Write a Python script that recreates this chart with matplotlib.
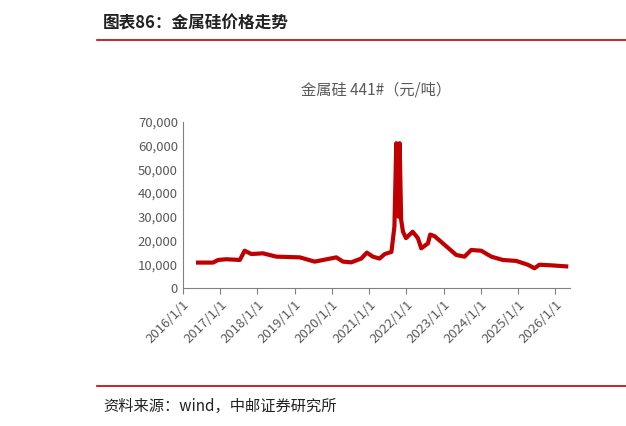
import matplotlib
matplotlib.use("Agg")
import matplotlib.pyplot as plt

plt.rcParams['font.family'] = ['Noto Sans CJK SC', 'DejaVu Sans']

years = [2016.41, 2016.81, 2016.95, 2017.17, 2017.53, 2017.66, 2017.84, 2018.15, 2018.51,
         2019.14, 2019.54, 2020.12, 2020.30, 2020.52, 2020.79, 2020.94, 2021.10, 2021.28,
         2021.42, 2021.60, 2021.68, 2021.73, 2021.75, 2021.77, 2021.79, 2021.82, 2021.86,
         2021.91, 2021.99, 2022.17, 2022.31, 2022.40, 2022.58, 2022.64, 2022.76, 2022.98,
         2023.34, 2023.56, 2023.74, 2024.01, 2024.28, 2024.59, 2024.95, 2025.26, 2025.44,
         2025.57, 2025.93, 2026.29]
prices = [10700, 10700, 11800, 12100, 11800, 15700, 14300, 14600, 13200,
          12900, 11100, 12900, 11100, 10800, 12400, 14900, 13200, 12400,
          14300, 15200, 25900, 61000, 35000, 60000, 30000, 61000, 28700,
          23700, 21000, 23700, 21000, 16700, 18800, 22500, 21800, 18800,
          13900, 13200, 16000, 15700, 13200, 11800, 11400, 9800, 8300,
          9800, 9500, 9100]
tick_years = list(range(2016, 2027))
tick_labels = [f"{y}/1/1" for y in tick_years]
yticks = list(range(0, 70001, 10000))

fig = plt.figure(figsize=(6.26, 4.26), dpi=100)
red = '#c00000'
fig.text(0.165, 0.945, "图表86：金属硅价格走势", fontsize=12, fontweight='bold', color='#222222', va='center')
fig.add_artist(plt.Line2D([0.155, 1.0], [0.905, 0.905], color=red, lw=1.2))
fig.add_artist(plt.Line2D([0.155, 1.0], [0.095, 0.095], color=red, lw=1.2))
fig.text(0.165, 0.045, "资料来源：wind，中邮证券研究所", fontsize=11, color='#222222', va='center')

ax = fig.add_axes([0.292, 0.324, 0.619, 0.39])
ax.plot(years, prices, color=red, lw=3)
ax.set_xlim(2016, 2026.4)
ax.set_ylim(0, 70000)
ax.set_xticks(tick_years)
ax.set_xticklabels(tick_labels, rotation=45, ha='right', rotation_mode='anchor', fontsize=9.5, color='#595959')
ax.set_yticks(yticks)
ax.set_yticklabels([f"{v:,}" for v in yticks], fontsize=9.5, color='#595959')
ax.tick_params(axis='y', length=0)
ax.tick_params(axis='x', length=4, color='#808080', direction='out')
for s in ['top', 'right']:
    ax.spines[s].set_visible(False)
for s in ['left', 'bottom']:
    ax.spines[s].set_color('#808080')
ax.set_title("金属硅 441#（元/吨）", fontsize=11, color='#595959', pad=20)
fig.savefig("out.png", dpi=100)
